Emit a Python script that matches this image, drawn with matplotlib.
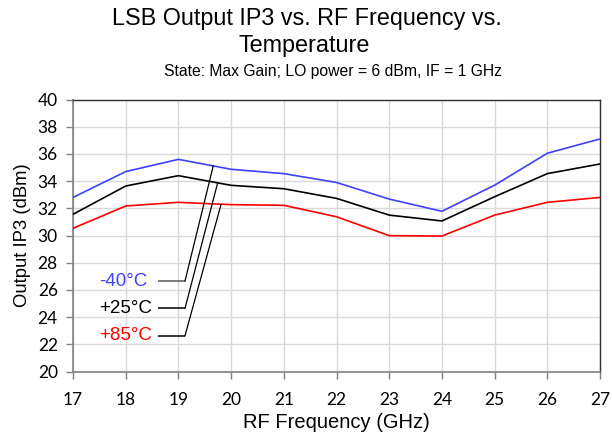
import matplotlib
matplotlib.use("Agg")
import matplotlib.pyplot as plt

# RF sweep, output IP3 per temperature
freq_ghz = [17, 18, 19, 20, 21, 22, 23, 24, 25, 26, 27]
oip3_m40 = [32.8, 34.7, 35.6, 34.87, 34.55, 33.9, 32.68, 31.78, 33.7, 36.05, 37.1]
oip3_p25 = [31.56, 33.64, 34.4, 33.69, 33.44, 32.73, 31.5, 31.07, 32.85, 34.55, 35.26]
oip3_p85 = [30.53, 32.17, 32.44, 32.27, 32.22, 31.38, 29.99, 29.96, 31.5, 32.44, 32.8]

series_labels = ["-40°C", "+25°C", "+85°C"]
series_colors = ["#4040ff", "#000000", "#ff0000"]

# callout anchors: label row -> elbow -> point on curve
label_y = [26.65, 24.64, 22.63]
leader_x0 = 18.61
elbow_x = 19.125
curve_pts = [(19.66, 35.11), (19.74, 33.8), (19.81, 32.3)]

yticks = list(range(20, 41, 2))

fig = plt.figure(figsize=(6.12, 4.38), dpi=100)
ax = fig.add_axes([0.1193, 0.1518, 0.8611, 0.621])

for ys, col in zip([oip3_m40, oip3_p25, oip3_p85], series_colors):
    ax.plot(freq_ghz, ys, color=col, lw=1.2, zorder=3)

ax.set_xlim(17, 27)
ax.set_ylim(20, 40)
ax.set_xticks(freq_ghz)
ax.set_yticks(yticks)
ax.grid(True, color="#d9d9d9", lw=1.0, zorder=0)

tick_font = "Lato"
for lab in ax.get_xticklabels() + ax.get_yticklabels():
    lab.set_fontfamily(tick_font)
    lab.set_fontsize(12.5)
ax.tick_params(axis="both", direction="out", length=5, width=1, color="#808080")
ax.tick_params(axis="y", pad=6)
ax.tick_params(axis="x", pad=10)

for side in ("left", "bottom"):
    ax.spines[side].set_color("#808080")
    ax.spines[side].set_linewidth(1.2)
for side in ("top", "right"):
    ax.spines[side].set_color("#303030")
    ax.spines[side].set_linewidth(1.0)

ax.set_xlabel("RF Frequency (GHz)", fontfamily="Liberation Sans", fontsize=14.5, labelpad=3)
ax.set_ylabel("Output IP3 (dBm)", fontfamily="Liberation Sans", fontsize=13.3, labelpad=5)

# callout labels with leader lines
for i, (lab, col) in enumerate(zip(series_labels, series_colors)):
    ly = label_y[i]
    cx, cy = curve_pts[i]
    lc = "#555555" if i == 0 else "#000000"
    ax.plot([leader_x0, elbow_x], [ly, ly], color=lc, lw=1.1, zorder=4,
            solid_capstyle="butt")
    ax.plot([elbow_x, cx], [ly, cy], color="#000000", lw=0.9, zorder=4)
    ax.text(17.5, ly, lab, color=col, fontfamily="Liberation Sans", fontsize=13.5,
            ha="left", va="center", zorder=5)

fig.text(0.502, 0.958, "LSB Output IP3 vs. RF Frequency vs.", ha="center", va="center",
         fontfamily="Liberation Sans", fontsize=16.8)
fig.text(0.497, 0.895, "Temperature", ha="center", va="center",
         fontfamily="Liberation Sans", fontsize=16.8)
fig.text(0.544, 0.836, "State: Max Gain; LO power = 6 dBm, IF = 1 GHz", ha="center",
         va="center", fontfamily="Liberation Sans", fontsize=11.3)

fig.savefig("out.png", dpi=100)
